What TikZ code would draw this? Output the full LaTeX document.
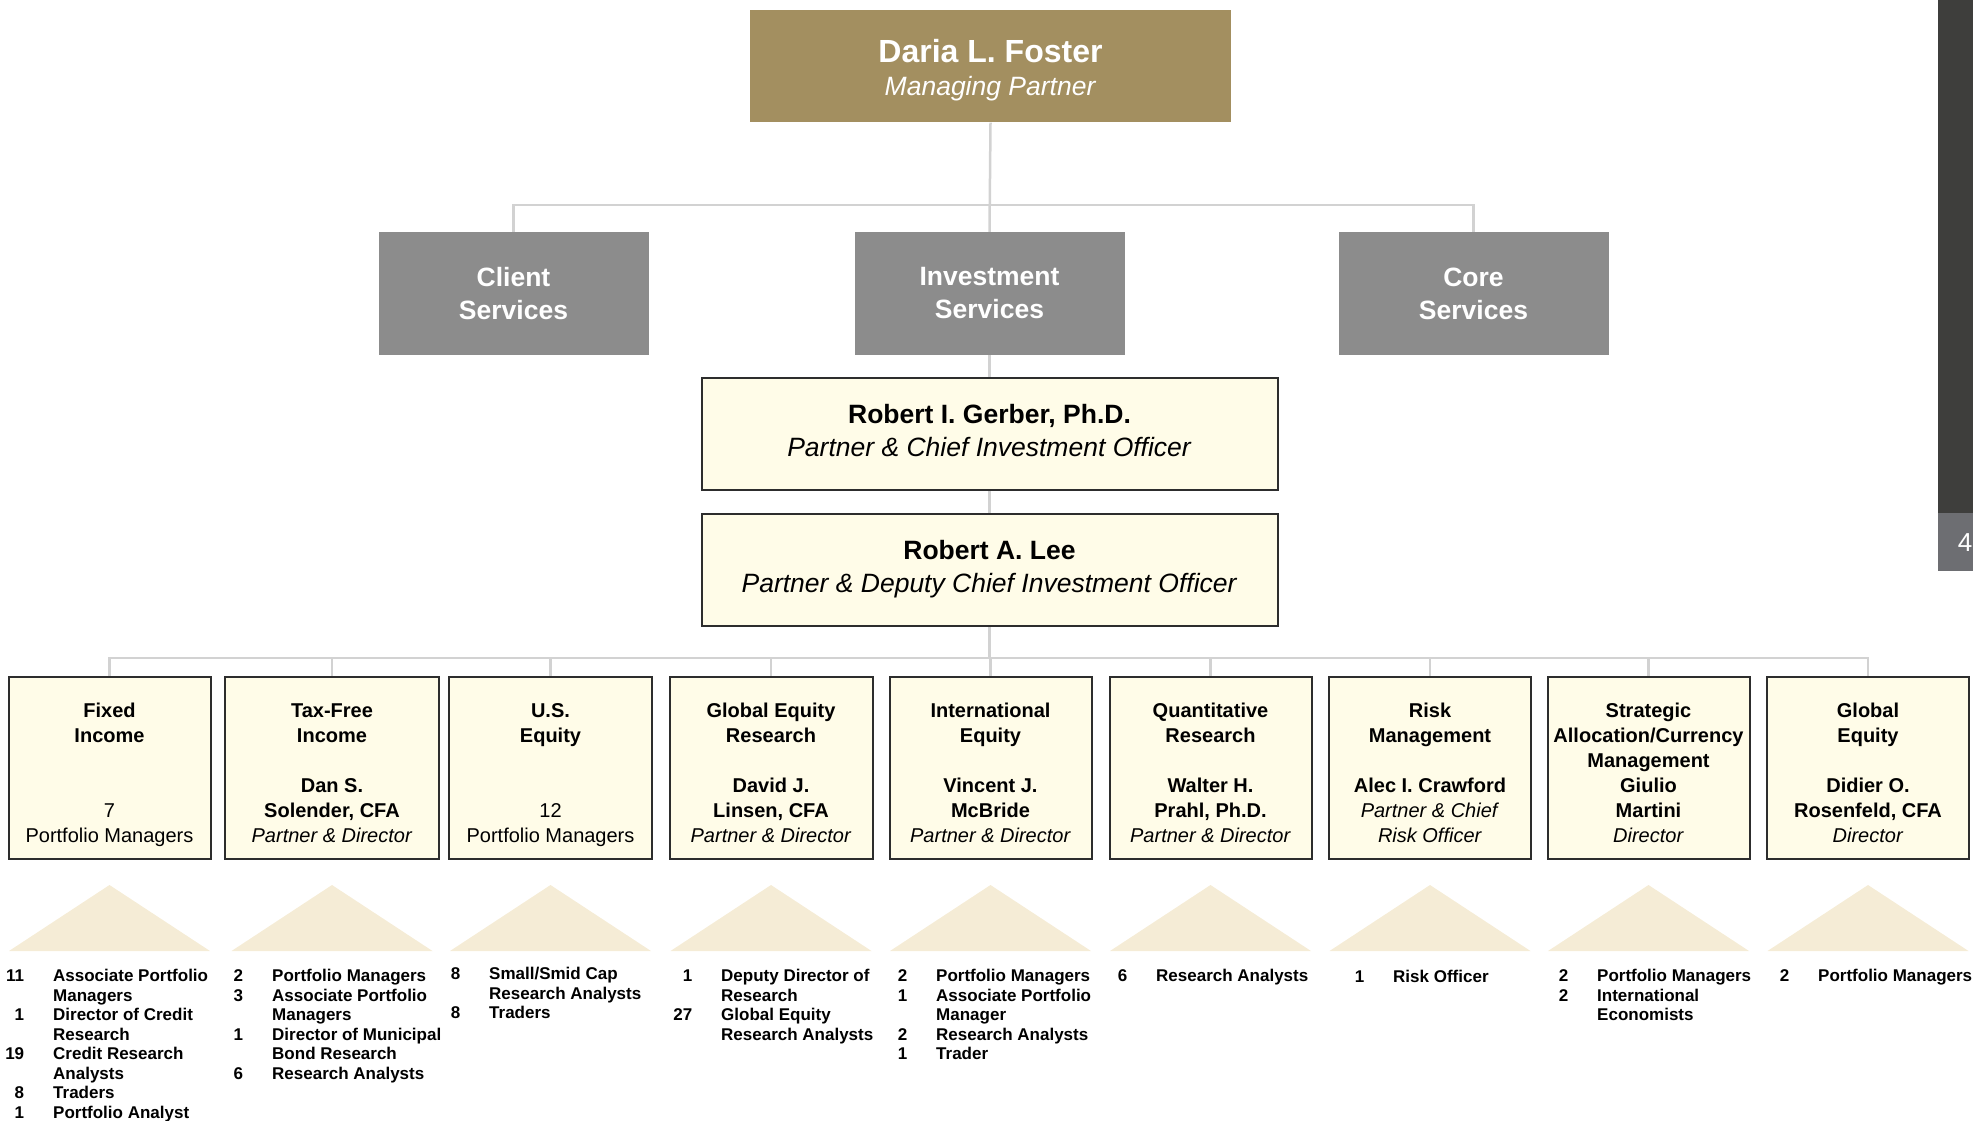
\documentclass[tikz,border=0pt]{standalone}
\usepackage{fontspec}
\setmainfont{Liberation Sans}
\usetikzlibrary{backgrounds}
\definecolor{goldbox}{RGB}{163,143,96}
\definecolor{svcgray}{RGB}{140,140,140}
\definecolor{creamfill}{RGB}{255,252,232}
\definecolor{boxline}{RGB}{45,45,45}
\definecolor{connline}{RGB}{210,210,210}
\definecolor{trifill}{RGB}{245,236,214}
\definecolor{sidebar}{RGB}{62,62,60}
\definecolor{pagebox}{RGB}{109,110,114}
\newcommand{\itm}[2]{\makebox[20pt][r]{#1}\hspace{29pt}#2}
\begin{document}
\begin{tikzpicture}[x=1pt,y=-1pt,
  conn/.style={draw=connline,line width=2.5pt},
  execbox/.style={fill=goldbox,text=white,inner sep=0pt,align=center,minimum width=481pt,minimum height=112pt,font=\fontsize{26.5}{33}\selectfont},
  svcbox/.style={fill=svcgray,text=white,inner sep=0pt,align=center,minimum width=270pt,minimum height=123pt,font=\fontsize{26.5}{33}\selectfont\bfseries},
  ciobox/.style={fill=creamfill,draw=boxline,line width=2pt,inner sep=0pt,align=center,minimum width=576pt,minimum height=112pt,font=\fontsize{26.5}{33}\selectfont},
  deptbox/.style={fill=creamfill,draw=boxline,line width=2pt,inner sep=0pt,minimum height=182pt},
  depttext/.style={inner sep=0pt,align=center,anchor=north,yshift=-23.3pt,font=\fontsize{20}{25.1}\selectfont},
  stafftext/.style={inner sep=0pt,align=left,anchor=north west,font=\fontsize{17}{19.5}\selectfont\bfseries},
  tri/.style={fill=trifill}
]
\useasboundingbox (0,0) rectangle (1973,1121);
\clip (0,0) rectangle (1973,1121);

% right side bar
\fill[sidebar] (1938,0) rectangle (1973,513);
\fill[pagebox] (1938,513) rectangle (1973,571);
\node[text=white,inner sep=0pt,font=\fontsize{26}{30}\selectfont] (pgnum) at (1965,543) {4};

% top
\node[execbox] (daria) at (990.5,66.5) {\rule{0pt}{31pt}{\fontsize{32}{33}\selectfont\bfseries Daria L. Foster}\\\textit{Managing Partner}};

\node[svcbox] (client) at (513.5,293.5) {Client\\Services};
\node[svcbox] (invest) at (989.5,293.5) {Investment\\Services};
\node[svcbox] (core) at (1473.5,293.5) {Core\\Services};

\node[ciobox] (gerber) at (989.5,433.5) {\textbf{Robert I. Gerber, Ph.D.}\\\textit{Partner \& Chief Investment Officer}\rule[-5.6pt]{0pt}{0pt}};
\node[ciobox] (lee) at (989.5,569.5) {\textbf{Robert A. Lee}\\\textit{Partner \& Deputy Chief Investment Officer}};

% departments
\node[deptbox,minimum width=202pt] (fi) at (109.5,768) {};
\node[deptbox,minimum width=214pt] (tf) at (332,768) {};
\node[deptbox,minimum width=203pt] (us) at (550.5,768) {};
\node[deptbox,minimum width=203pt] (ger) at (771,768) {};
\node[deptbox,minimum width=202pt] (ie) at (990.5,768) {};
\node[deptbox,minimum width=202pt] (qr) at (1210.5,768) {};
\node[deptbox,minimum width=202pt] (rm) at (1430,768) {};
\node[deptbox,minimum width=202pt] (sa) at (1648.5,768) {};
\node[deptbox,minimum width=202pt] (ge) at (1868,768) {};

\node[depttext] (fiT) at (fi.north) {\strut\textbf{Fixed}\\\textbf{Income}\\~\\~\\7\\Portfolio Managers};
\node[depttext] (tfT) at (tf.north) {\strut\textbf{Tax-Free}\\\textbf{Income}\\~\\\textbf{Dan S.}\\\textbf{Solender, CFA}\\\textit{Partner \& Director}};
\node[depttext] (usT) at (us.north) {\strut\textbf{U.S.}\\\textbf{Equity}\\~\\~\\12\\Portfolio Managers};
\node[depttext] (gerT) at (ger.north) {\strut\textbf{Global Equity}\\\textbf{Research}\\~\\\textbf{David J.}\\\textbf{Linsen, CFA}\\\textit{Partner \& Director}};
\node[depttext] (ieT) at (ie.north) {\strut\textbf{International}\\\textbf{Equity}\\~\\\textbf{Vincent J.}\\\textbf{McBride}\\\textit{Partner \& Director}};
\node[depttext] (qrT) at (qr.north) {\strut\textbf{Quantitative}\\\textbf{Research}\\~\\\textbf{Walter H.}\\\textbf{Prahl, Ph.D.}\\\textit{Partner \& Director}};
\node[depttext] (rmT) at (rm.north) {\strut\textbf{Risk}\\\textbf{Management}\\~\\\textbf{Alec I. Crawford}\\\textit{Partner \& Chief}\\\textit{Risk Officer}};
\node[depttext] (saT) at (sa.north) {\strut\textbf{Strategic}\\\textbf{Allocation/Currency}\\\textbf{Management}\\\textbf{Giulio}\\\textbf{Martini}\\\textit{Director}};
\node[depttext] (geT) at (ge.north) {\strut\textbf{Global}\\\textbf{Equity}\\~\\\textbf{Didier O.}\\\textbf{Rosenfeld, CFA}\\\textit{Director}};

% triangles
\coordinate (triApex) at (0,885);
\foreach \b in {fi,tf,us,ger,ie,qr,rm,sa,ge}{
  \fill[tri] (\b.south |- triApex) -- ++(-100.5,66) -- ++(201,0) -- cycle;
}

% staff lists
\node[stafftext] (fiS) at (4,968) {\strut\itm{11}{Associate Portfolio}\\\itm{}{Managers}\\\itm{1}{Director of Credit}\\\itm{}{Research}\\\itm{19}{Credit Research}\\\itm{}{Analysts}\\\itm{8}{Traders}\\\itm{1}{Portfolio Analyst}};
\node[stafftext] (tfS) at (223,968) {\strut\itm{2}{Portfolio Managers}\\\itm{3}{Associate Portfolio}\\\itm{}{Managers}\\\itm{1}{Director of Municipal}\\\itm{}{Bond Research}\\\itm{6}{Research Analysts}};
\node[stafftext] (usS) at (440,966) {\strut\itm{8}{Small/Smid Cap}\\\itm{}{Research Analysts}\\\itm{8}{Traders}};
\node[stafftext] (gerS) at (672,968) {\strut\itm{1}{Deputy Director of}\\\itm{}{Research}\\\itm{27}{Global Equity}\\\itm{}{Research Analysts}};
\node[stafftext] (ieS) at (887,968) {\strut\itm{2}{Portfolio Managers}\\\itm{1}{Associate Portfolio}\\\itm{}{Manager}\\\itm{2}{Research Analysts}\\\itm{1}{Trader}};
\node[stafftext] (qrS) at (1107,968) {\strut\itm{6}{Research Analysts}};
\node[stafftext] (rmS) at (1344,969) {\strut\itm{1}{Risk Officer}};
\node[stafftext] (saS) at (1548,968) {\strut\itm{2}{Portfolio Managers}\\\itm{2}{International}\\\itm{}{Economists}};
\node[stafftext] (geS) at (1769,968) {\strut\itm{2}{Portfolio Managers}};

% connectors
\coordinate (busA) at (990,205);
\coordinate (busB) at (990,658);
\begin{scope}[on background layer]
\draw[conn] (daria.south) -- (invest.north);
\draw[conn] (daria.south |- busA) -| (client.north);
\draw[conn] (daria.south |- busA) -| (core.north);
\draw[conn] (invest.south) -- (gerber.north);
\draw[conn] (gerber.south) -- (lee.north);
\draw[conn] (lee.south) -- (lee.south |- busB);
\foreach \b in {fi,tf,us,ger,ie,qr,rm,sa,ge}{
  \draw[conn] (lee.south |- busB) -| (\b.north);
}
\end{scope}
\end{tikzpicture}
\end{document}
